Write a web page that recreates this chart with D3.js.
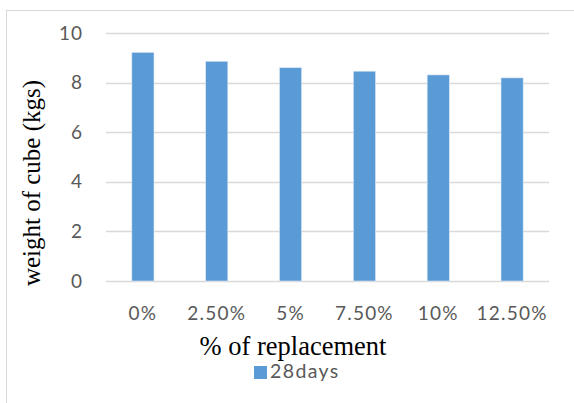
<!DOCTYPE html>
<html>
<head>
<meta charset="utf-8">
<script src="https://cdn.jsdelivr.net/npm/d3@7"></script>
<style>
  body { margin: 0; background: #fff; }
  svg { display: block; }
</style>
</head>
<body>
<script>
  const categories = ["0%", "2.50%", "5%", "7.50%", "10%", "12.50%"];
  const weights = [9.22, 8.86, 8.60, 8.46, 8.31, 8.19];
  const yTicks = [0, 2, 4, 6, 8, 10];
  const seriesName = "28days";

  const w = 574, h = 403;
  const margin = { top: 33, right: 25, bottom: 122, left: 106 };
  const labelFont = "Lato, 'Open Sans', sans-serif";
  const titleFont = "'Liberation Serif', 'Times New Roman', serif";

  const svg = d3.select("body").append("svg")
    .attr("width", w)
    .attr("height", h);

  // chart border
  svg.append("rect")
    .attr("x", 6.5).attr("y", 10.5)
    .attr("width", w).attr("height", h)
    .attr("fill", "none")
    .attr("stroke", "#d9d9d9");

  const xScale = d3.scaleBand()
    .domain(categories)
    .range([margin.left, w - margin.right])
    .paddingInner(0.7)
    .paddingOuter(0.35);

  const yScale = d3.scaleLinear()
    .domain([0, 10])
    .range([h - margin.bottom, margin.top]);

  // gridlines
  svg.append("g")
    .selectAll("line")
    .data(yTicks)
    .enter()
    .append("line")
    .attr("x1", margin.left)
    .attr("x2", w - margin.right)
    .attr("y1", d => Math.round(yScale(d)) + 0.5)
    .attr("y2", d => Math.round(yScale(d)) + 0.5)
    .attr("stroke", "#d9d9d9")
    .attr("stroke-width", 1.3);

  svg.selectAll("rect.bar")
    .data(weights)
    .enter()
    .append("rect")
    .attr("class", "bar")
    .attr("x", (d, i) => xScale(categories[i]))
    .attr("y", d => yScale(d))
    .attr("width", xScale.bandwidth())
    .attr("height", d => yScale(0) - yScale(d))
    .attr("fill", "#5b9bd5")
    .attr("stroke", "#dbe8f5")
    .attr("stroke-width", 0.6);

  const yAxis = d3.axisLeft(yScale).tickValues(yTicks).tickSize(0).tickPadding(0);
  const gy = svg.append("g")
    .attr("transform", "translate(83,0)")
    .call(yAxis);
  gy.select(".domain").remove();
  gy.selectAll("text")
    .attr("fill", "#595959")
    .style("font-family", labelFont)
    .style("font-size", "19px")
    .style("letter-spacing", "1px");

  const xAxis = d3.axisBottom(xScale).tickSize(0).tickPadding(0);
  const gx = svg.append("g")
    .attr("transform", "translate(0," + (h - margin.bottom) + ")")
    .call(xAxis);
  gx.select(".domain").remove();
  gx.selectAll("text")
    .attr("dy", null)
    .attr("y", 39)
    .attr("fill", "#595959")
    .style("font-family", labelFont)
    .style("font-size", "19px")
    .style("letter-spacing", "1.2px");

  svg.append("text")
    .attr("x", 293)
    .attr("y", 355)
    .attr("text-anchor", "middle")
    .style("font-family", titleFont)
    .style("font-size", "26.5px")
    .attr("fill", "#000")
    .text("% of replacement");

  svg.append("text")
    .attr("transform", "translate(40,183) rotate(-90)")
    .attr("text-anchor", "middle")
    .style("font-family", titleFont)
    .style("font-size", "25px")
    .attr("fill", "#000")
    .text("weight of cube (kgs)");

  // legend
  const legend = svg.append("g");
  legend.append("rect")
    .attr("x", 254).attr("y", 366)
    .attr("width", 13).attr("height", 13)
    .attr("fill", "#5b9bd5");
  legend.append("text")
    .attr("x", 270).attr("y", 378)
    .attr("fill", "#595959")
    .style("font-family", labelFont)
    .style("font-size", "19.5px")
    .style("letter-spacing", "1.4px")
    .text(seriesName);
</script>
</body>
</html>
